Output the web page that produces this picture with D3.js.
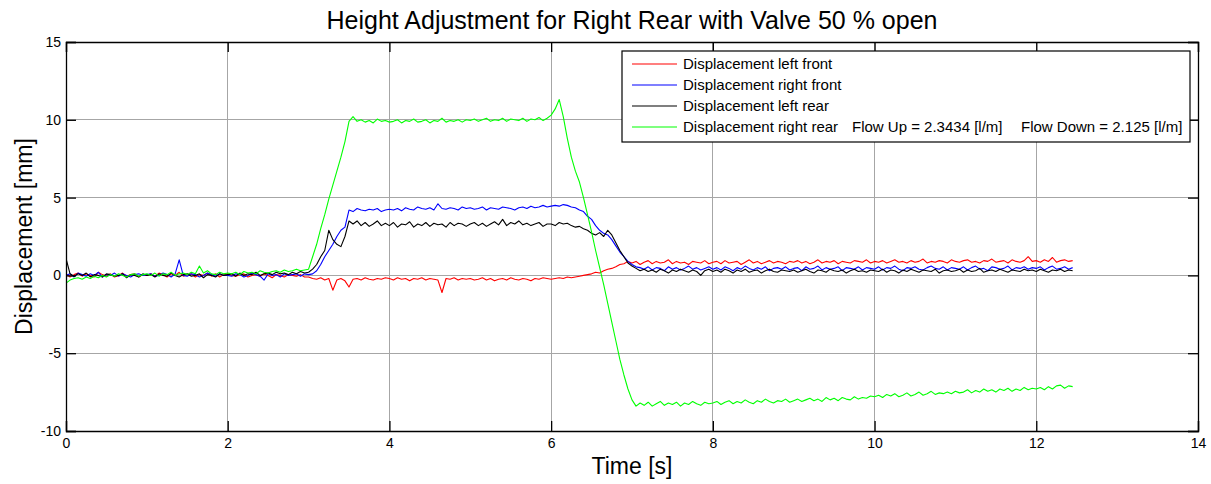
<!DOCTYPE html>
<html>
<head>
<meta charset="utf-8">
<script src="https://cdn.jsdelivr.net/npm/d3@7/dist/d3.min.js"></script>
<style>
  html, body { margin: 0; padding: 0; background: #fff; }
  svg { display: block; font-family: "Liberation Sans", Arial, sans-serif; }
</style>
</head>
<body>
<svg id="chart" width="1211" height="484"></svg>
<script>
// ---- data (sampled every 0.05 s, starting at 0 s) ----
const sampleStep = 0.05;
const title = "Height Adjustment for Right Rear with Valve 50 % open";
const xLabel = "Time [s]";
const yLabel = "Displacement [mm]";
const xTicks = [0, 2, 4, 6, 8, 10, 12, 14];
const yTicks = [-10, -5, 0, 5, 10, 15];
const seriesNames = [
  "Displacement left front",
  "Displacement right front",
  "Displacement left rear",
  "Displacement right rear"
];
const legendNotes = [[], [], [], ["Flow Up = 2.3434 [l/m]", "Flow Down = 2.125 [l/m]"]];

const leftFront = [
  0.1,-0.1,0.05,0.15,-0.05,0.1,0.0,-0.1,0.2,0.05,-0.05,0.1,-0.1,0.0,0.15,-0.05,0.05,0.1,-0.1,0.05,
  0.0,0.1,-0.05,0.15,0.05,-0.1,0.1,0.0,0.2,-0.05,0.05,0.1,-0.1,0.05,0.0,0.15,-0.05,0.1,-0.1,0.05,
  0.1,0.0,-0.05,0.05,0.1,-0.1,0.0,0.05,-0.05,0.1,0.0,-0.15,0.05,0.0,-0.1,0.05,0.0,-0.05,0.05,-0.1,
  -0.1,-0.2,-0.25,-0.15,-0.3,-0.2,-0.95,-0.3,-0.2,-0.35,-0.75,-0.25,-0.2,-0.3,-0.15,-0.25,-0.3,-0.2,-0.25,-0.15,
  -0.2,-0.3,-0.15,-0.25,-0.2,-0.35,-0.2,-0.25,-0.15,-0.3,-0.2,-0.25,-0.3,-1.1,-0.2,-0.25,-0.15,-0.3,-0.2,-0.25,
  -0.2,-0.3,-0.25,-0.15,-0.3,-0.2,-0.35,-0.25,-0.2,-0.3,-0.15,-0.25,-0.3,-0.2,-0.25,-0.35,-0.2,-0.25,-0.15,-0.2,
  -0.25,-0.2,-0.15,-0.2,-0.1,-0.15,-0.1,-0.05,0.0,0.05,0.1,0.2,0.15,0.3,0.4,0.45,0.55,0.7,0.75,0.9,
  0.8,0.9,0.7,0.85,0.95,0.75,0.9,0.8,0.85,1.0,0.75,0.9,0.8,0.85,0.7,0.9,0.85,0.8,0.95,0.75,
  0.85,0.9,0.75,0.95,0.8,0.85,0.9,0.7,0.85,1.0,0.8,0.9,0.75,0.85,0.95,0.8,0.9,0.85,0.75,0.9,
  0.85,0.95,0.8,0.9,0.75,0.85,1.0,0.8,0.9,0.85,0.95,0.75,0.9,0.85,0.8,0.95,0.9,0.85,1.0,0.8,
  0.9,0.85,0.95,0.8,0.9,1.0,0.85,0.9,0.8,0.95,0.85,0.9,1.05,0.8,0.9,0.85,0.95,0.9,0.8,1.0,
  0.9,0.85,0.95,1.0,0.85,0.9,0.8,0.95,0.9,1.05,0.85,0.9,0.95,0.8,1.0,0.9,0.85,0.95,1.2,0.9,
  0.95,0.85,1.0,0.9,1.15,0.85,0.95,1.0,0.9,0.95
];

const rightFront = [
  0.0,0.1,-0.1,0.15,0.05,-0.05,0.1,0.0,0.2,-0.1,0.05,0.0,0.15,-0.05,0.1,0.0,-0.1,0.05,0.1,0.0,
  0.05,0.1,-0.05,0.0,0.15,0.05,-0.1,0.1,1.0,0.0,-0.05,0.1,0.05,-0.1,0.0,0.15,0.05,-0.05,0.1,0.0,
  0.0,-0.05,0.1,0.05,-0.1,0.0,0.15,0.05,-0.05,-0.3,0.1,0.0,0.05,-0.1,0.1,0.0,0.05,0.1,-0.05,0.1,
  0.05,0.1,0.3,0.7,1.2,1.6,2.0,2.5,2.9,3.1,4.2,4.1,4.3,4.2,4.15,4.25,4.2,4.3,4.1,4.2,
  4.25,4.2,4.3,4.15,4.35,4.25,4.2,4.4,4.3,4.25,4.35,4.2,4.6,4.3,4.25,4.35,4.3,4.2,4.4,4.3,
  4.35,4.25,4.3,4.4,4.2,4.35,4.3,4.25,4.4,4.35,4.3,4.2,4.35,4.4,4.3,4.45,4.35,4.4,4.5,4.4,
  4.45,4.5,4.45,4.55,4.5,4.4,4.35,4.2,4.1,3.8,3.6,3.2,2.9,2.7,2.6,2.3,1.9,1.5,1.2,0.9,
  0.7,0.55,0.5,0.4,0.55,0.35,0.5,0.45,0.3,0.55,0.4,0.5,0.35,0.45,0.6,0.4,0.5,0.35,0.45,0.55,
  0.4,0.5,0.35,0.55,0.45,0.3,0.5,0.4,0.6,0.45,0.35,0.5,0.4,0.55,0.3,0.45,0.5,0.4,0.55,0.35,
  0.45,0.5,0.3,0.55,0.4,0.45,0.6,0.35,0.5,0.4,0.45,0.55,0.3,0.5,0.45,0.4,0.55,0.35,0.5,0.45,
  0.4,0.55,0.35,0.5,0.45,0.6,0.4,0.3,0.5,0.45,0.55,0.4,0.35,0.5,0.6,0.45,0.4,0.55,0.35,0.5,
  0.45,0.4,0.55,0.35,0.5,0.6,0.4,0.45,0.3,0.55,0.5,0.4,0.45,0.6,0.35,0.5,0.45,0.55,0.4,0.5,
  0.45,0.55,0.35,0.5,0.6,0.4,0.45,0.55,0.4,0.5
];

const leftRear = [
  1.1,0.1,-0.05,0.1,0.0,0.15,-0.1,0.05,0.0,-0.1,0.1,0.05,-0.05,0.0,0.1,-0.15,0.05,0.0,-0.1,0.1,
  0.0,0.05,-0.1,0.1,0.0,-0.05,0.15,0.0,-0.1,0.05,0.1,-0.05,0.0,0.1,-0.15,0.05,0.0,-0.1,0.1,0.0,
  0.05,0.1,-0.05,0.15,0.0,0.1,0.05,0.2,0.0,0.1,0.15,0.05,0.2,0.1,0.15,0.05,0.2,0.1,0.25,0.15,
  0.2,0.4,0.7,1.2,1.6,2.9,2.3,2.0,1.85,2.5,3.5,3.3,3.5,3.2,3.4,3.15,3.3,3.5,3.2,3.35,
  3.2,3.4,3.1,3.3,3.25,3.45,3.1,3.3,3.2,3.4,3.15,3.35,3.25,3.3,3.1,3.4,3.2,3.35,3.3,3.15,
  3.3,3.4,3.2,3.35,3.15,3.3,3.45,3.25,3.6,3.2,3.4,3.3,3.5,3.25,3.35,3.2,3.3,3.4,3.15,3.3,
  3.3,3.2,3.4,3.3,3.35,3.2,3.1,3.15,3.0,2.9,2.7,2.6,2.75,2.5,2.9,2.6,2.1,1.6,1.2,0.8,
  0.6,0.45,0.3,0.4,0.25,0.35,0.2,0.4,0.3,0.15,0.35,0.25,0.4,0.3,0.2,0.35,0.25,0.0,0.3,0.4,
  0.25,0.35,0.2,0.4,0.3,0.15,0.35,0.25,0.4,0.2,0.3,0.35,0.15,0.3,0.4,0.25,0.2,0.35,0.3,0.25,
  0.35,0.2,0.3,0.4,0.25,0.15,0.35,0.3,0.2,0.4,0.3,0.25,0.35,0.15,0.3,0.4,0.25,0.3,0.2,0.35,
  0.3,0.25,0.4,0.2,0.35,0.3,0.15,0.35,0.25,0.4,0.3,0.2,0.35,0.3,0.25,0.4,0.15,0.3,0.35,0.25,
  0.3,0.4,0.2,0.35,0.25,0.3,0.45,0.2,0.3,0.35,0.25,0.4,0.3,0.2,0.35,0.3,0.25,0.4,0.3,0.35,
  0.25,0.4,0.3,0.2,0.35,0.3,0.4,0.25,0.35,0.3
];

const rightRear = [
  -0.5,-0.3,-0.2,-0.15,-0.25,-0.1,-0.2,-0.05,-0.15,0.0,-0.1,0.05,-0.05,0.1,0.0,-0.1,0.05,0.1,-0.05,0.05,
  0.1,0.0,0.15,-0.05,0.1,0.05,0.2,0.0,0.1,0.15,0.05,0.2,0.1,0.6,0.15,0.3,0.1,0.05,0.2,0.1,
  0.15,0.1,0.2,0.05,0.25,0.15,0.2,0.1,0.3,0.2,0.15,0.25,0.3,0.2,0.35,0.25,0.3,0.4,0.3,0.35,
  0.4,1.2,2.0,3.0,3.9,4.9,5.8,6.7,7.6,8.6,9.9,10.2,9.9,10.0,9.85,9.95,9.8,10.05,9.9,9.95,
  9.85,9.9,10.0,9.8,9.95,9.9,10.05,9.85,9.9,10.0,9.8,9.95,9.9,10.1,9.85,9.95,9.9,10.0,9.85,10.0,
  9.95,10.05,9.9,10.0,10.1,9.9,10.0,9.95,10.1,9.9,10.05,10.0,9.95,10.1,9.9,10.05,10.0,10.15,9.95,10.1,
  10.3,10.7,11.3,10.2,8.8,7.6,6.7,6.0,5.0,3.9,2.8,1.6,0.5,-0.6,-1.8,-3.0,-4.2,-5.4,-6.4,-7.3,
  -8.0,-8.4,-8.2,-8.35,-8.15,-8.4,-8.25,-8.1,-8.35,-8.2,-8.3,-8.15,-8.4,-8.2,-8.3,-8.1,-8.25,-8.35,-8.15,-8.25,
  -8.2,-8.1,-8.3,-8.15,-8.05,-8.25,-8.1,-8.2,-8.0,-8.15,-8.25,-8.05,-8.15,-7.95,-8.1,-8.2,-8.05,-8.1,-7.95,-8.15,
  -8.05,-7.95,-8.1,-8.0,-7.9,-8.05,-7.95,-8.1,-7.85,-8.0,-7.9,-8.05,-7.85,-7.95,-8.0,-7.8,-7.95,-7.85,-7.9,-7.75,
  -7.8,-7.7,-7.85,-7.65,-7.75,-7.6,-7.8,-7.7,-7.55,-7.75,-7.65,-7.5,-7.7,-7.6,-7.45,-7.65,-7.55,-7.6,-7.5,-7.6,
  -7.45,-7.55,-7.5,-7.35,-7.55,-7.4,-7.5,-7.3,-7.45,-7.35,-7.5,-7.3,-7.4,-7.25,-7.45,-7.3,-7.4,-7.2,-7.35,-7.25,
  -7.3,-7.2,-7.35,-7.15,-7.3,-7.1,-7.05,-7.25,-7.1,-7.15
];

const seriesColors = ["#ff0000", "#0000ff", "#000000", "#00ff00"];
const seriesValues = [leftFront, rightFront, leftRear, rightRear];

// ---- layout ----
const W = 1211, H = 484;
const plot = { left: 66, right: 1198, top: 42, bottom: 431 };
const font = "'Liberation Sans', Arial, sans-serif";

const svg = d3.select("#chart");
const x = d3.scaleLinear().domain([0, 14]).range([plot.left, plot.right]);
const y = d3.scaleLinear().domain([-10, 15]).range([plot.bottom, plot.top]);

svg.append("rect").attr("x", 0).attr("y", 0).attr("width", W).attr("height", H).attr("fill", "#fff");

// grid
const grid = svg.append("g").attr("stroke", "#a6a6a6").attr("stroke-width", 1).attr("shape-rendering", "crispEdges");
xTicks.slice(1, -1).forEach(t => {
  grid.append("line").attr("x1", x(t)).attr("x2", x(t)).attr("y1", plot.top).attr("y2", plot.bottom);
});
yTicks.slice(1, -1).forEach(t => {
  grid.append("line").attr("x1", plot.left).attr("x2", plot.right).attr("y1", y(t)).attr("y2", y(t));
});

// series
const line = d3.line()
  .x((d, i) => x(i * sampleStep))
  .y(d => y(d));
svg.append("clipPath").attr("id", "clip").append("rect")
  .attr("x", plot.left).attr("y", plot.top).attr("width", plot.right - plot.left).attr("height", plot.bottom - plot.top);
const lines = svg.append("g").attr("clip-path", "url(#clip)");
seriesValues.forEach((vals, k) => {
  lines.append("path").datum(vals)
    .attr("fill", "none")
    .attr("stroke", seriesColors[k])
    .attr("stroke-width", 1.1)
    .attr("stroke-linejoin", "round")
    .attr("d", line);
});

// axes (MATLAB style: ticks inward on all sides)
const tickLen = 10;
const fmt = d => String(d); // plain hyphen-minus like MATLAB
const axBottom = svg.append("g").attr("transform", `translate(0,${plot.bottom})`)
  .call(d3.axisBottom(x).tickValues(xTicks).tickSize(-tickLen).tickPadding(7).tickFormat(fmt));
const axTop = svg.append("g").attr("transform", `translate(0,${plot.top})`)
  .call(d3.axisTop(x).tickValues(xTicks).tickSize(-tickLen).tickFormat(""));
const axLeft = svg.append("g").attr("transform", `translate(${plot.left},0)`)
  .call(d3.axisLeft(y).tickValues(yTicks).tickSize(-tickLen).tickPadding(5).tickFormat(fmt));
const axRight = svg.append("g").attr("transform", `translate(${plot.right},0)`)
  .call(d3.axisRight(y).tickValues(yTicks).tickSize(-tickLen).tickFormat(""));
[axBottom, axTop, axLeft, axRight].forEach(a => {
  a.select(".domain").attr("stroke", "#000").attr("stroke-width", 1.3);
  a.selectAll(".tick line").attr("stroke", "#000").attr("stroke-width", 1.3);
  a.selectAll("text").attr("fill", "#000").style("font-size", "14px").style("font-family", font);
});

// title and labels
svg.append("text").attr("x", 632).attr("y", 29)
  .attr("text-anchor", "middle").style("font-size", "25px").style("font-family", font).attr("fill", "#000").text(title);
svg.append("text").attr("x", 632).attr("y", 474)
  .attr("text-anchor", "middle").style("font-size", "23px").style("font-family", font).attr("fill", "#000").text(xLabel);
svg.append("text").attr("transform", `translate(32,${(plot.top + plot.bottom) / 2}) rotate(-90)`)
  .attr("text-anchor", "middle").style("font-size", "23px").style("font-family", font).attr("fill", "#000").text(yLabel);

// legend
const lg = { x: 622, y: 51, w: 568, h: 91 };
const noteOffsets = [169, 338];
const legend = svg.append("g");
legend.append("rect").attr("x", lg.x).attr("y", lg.y).attr("width", lg.w).attr("height", lg.h)
  .attr("fill", "#fff").attr("stroke", "#000").attr("stroke-width", 1.2);
const rowY = d3.scalePoint().domain(d3.range(seriesNames.length)).range([lg.y + 13, lg.y + 76]);
seriesNames.forEach((name, k) => {
  const yy = rowY(k);
  legend.append("line").attr("x1", lg.x + 10).attr("x2", lg.x + 55).attr("y1", yy).attr("y2", yy)
    .attr("stroke", seriesColors[k]).attr("stroke-width", 1.1);
  const t = legend.append("text").attr("x", lg.x + 61).attr("y", yy).attr("dy", "0.35em")
    .style("font-size", "15px").style("font-family", font).attr("fill", "#000");
  t.append("tspan").text(name);
  legendNotes[k].forEach((note, j) => {
    t.append("tspan").attr("x", lg.x + 61 + noteOffsets[j]).text(note);
  });
});
</script>
</body>
</html>
